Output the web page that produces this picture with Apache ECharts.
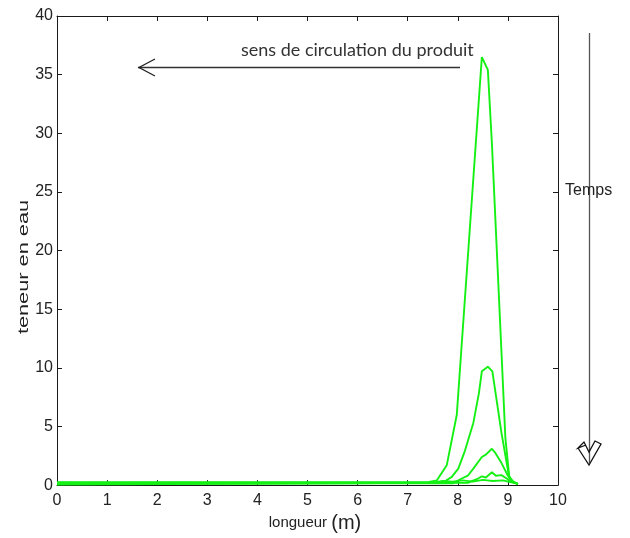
<!DOCTYPE html>
<html><head><meta charset="utf-8">
<script src="https://cdn.jsdelivr.net/npm/echarts@6/dist/echarts.min.js"></script>
<style>html,body{margin:0;padding:0;background:#fff}#c{width:630px;height:538px}</style>
</head><body><div id="c"></div>
<script>
// longueur (m) and teneur en eau for successive times
const x1 = [0, 7.4, 7.58, 7.78, 7.98, 8.48, 8.6, 8.68, 8.87, 8.95, 9.03, 9.12, 9.2];
const y1 = [0.25, 0.25, 0.4, 1.7, 6.0, 36.5, 35.4, 29.2, 11.5, 4.0, 0.6, 0.25, 0.1];
const x2 = [0, 7.7, 7.88, 8.01, 8.14, 8.31, 8.42, 8.48, 8.6, 8.69, 8.87, 9.02, 9.1, 9.2];
const y2 = [0.2, 0.2, 0.7, 1.4, 2.9, 5.3, 7.8, 9.7, 10.1, 9.7, 4.5, 0.8, 0.3, 0.1];
const x3 = [0, 7.9, 8.05, 8.2, 8.31, 8.48, 8.56, 8.68, 8.74, 8.87, 9.0, 9.08, 9.2];
const y3 = [0.15, 0.15, 0.5, 0.8, 1.4, 2.4, 2.6, 3.1, 2.8, 1.9, 0.8, 0.3, 0.1];
const x4 = [0, 8.2, 8.38, 8.48, 8.56, 8.68, 8.76, 8.87, 8.96, 9.06, 9.2];
const y4 = [0.1, 0.2, 0.5, 0.75, 0.65, 1.1, 0.8, 0.85, 0.6, 0.3, 0.1];
const x5 = [0, 7.5, 7.7, 7.9, 8.1, 8.3, 8.5, 8.7, 8.9, 9.05, 9.2];
const y5 = [0.05, 0.2, 0.35, 0.3, 0.4, 0.3, 0.45, 0.35, 0.4, 0.25, 0.1];

const xMin = 0, xMax = 10, xStep = 1;
const yMin = 0, yMax = 40, yStep = 5;

const curves = [[x1, y1], [x2, y2], [x3, y3], [x4, y4], [x5, y5]];
const zip = (xs, ys) => xs.map((x, i) => [x, ys[i]]);

const chart = echarts.init(document.getElementById('c'), null, {renderer: 'canvas'});
const axisCol = '#1a1a1a';
const labelFont = {fontFamily: 'Liberation Sans', fontSize: 16, color: '#222'};
const frameLine = {show: true, onZero: false, lineStyle: {color: axisCol, width: 1}};
const frameTick = {show: true, inside: true, length: 5, lineStyle: {color: axisCol}};

chart.setOption({
  animation: false,
  backgroundColor: '#fff',
  grid: {left: 57, right: 72, top: 16, bottom: 50, show: false},
  xAxis: [{
    type: 'value', min: xMin, max: xMax, interval: xStep, position: 'bottom',
    axisLine: frameLine, axisTick: frameTick,
    axisLabel: Object.assign({margin: 7}, labelFont),
    splitLine: {show: false},
    name: '{a|longueur }{b|(m)}', nameLocation: 'middle', nameGap: 22,
    nameTextStyle: {padding: [0, 0, 0, 15], rich: {
      a: {fontFamily: 'Liberation Sans', fontSize: 15, color: '#222'},
      b: {fontFamily: 'Liberation Sans', fontSize: 20, color: '#222'}
    }}
  }, {
    type: 'value', min: xMin, max: xMax, interval: xStep, position: 'top',
    axisLine: frameLine, axisTick: frameTick,
    axisLabel: {show: false}, splitLine: {show: false}
  }],
  yAxis: [{
    type: 'value', min: yMin, max: yMax, interval: yStep, position: 'left',
    axisLine: frameLine, axisTick: frameTick,
    axisLabel: Object.assign({margin: 4}, labelFont),
    splitLine: {show: false}
  }, {
    type: 'value', min: yMin, max: yMax, interval: yStep, position: 'right',
    axisLine: frameLine, axisTick: frameTick,
    axisLabel: {show: false}, splitLine: {show: false}
  }],
  series: curves.map(([xs, ys]) => ({
    type: 'line', data: zip(xs, ys), showSymbol: false, symbol: 'none',
    lineStyle: {color: '#14f014', width: 1.9}, z: 3
  })),
  graphic: [
    {type: 'text', x: 24, y: 267, rotation: Math.PI / 2, scaleX: 1.45,
     style: {text: 'teneur en eau', fontFamily: 'Liberation Sans', fontSize: 15, fill: '#222',
             textAlign: 'center', textVerticalAlign: 'middle'}},
    {type: 'text', x: 241, y: 50,
     style: {text: 'sens de circulation du produit', fontFamily: 'Lato', fontSize: 18, fill: '#333',
             textAlign: 'left', textVerticalAlign: 'middle'}},
    {type: 'line', shape: {x1: 460, y1: 67.5, x2: 138, y2: 67.5}, style: {stroke: '#333', lineWidth: 1.3}},
    {type: 'polyline', shape: {points: [[155, 59], [139, 67.5], [155, 76]]}, style: {stroke: '#222', lineWidth: 1.3, fill: null}},
    {type: 'line', shape: {x1: 589.5, y1: 33, x2: 589.5, y2: 463}, style: {stroke: '#555', lineWidth: 1.3}},
    {type: 'polyline', shape: {points: [[578, 448], [589, 465], [601, 444], [595, 441], [589, 452], [584, 442], [578, 448], [586, 445]]},
     style: {stroke: '#111', lineWidth: 1.3, fill: null}},
    {type: 'text', x: 565, y: 191,
     style: {text: 'Temps', fontFamily: 'Liberation Sans', fontSize: 16, fill: '#222',
             textAlign: 'left', textVerticalAlign: 'middle'}}
  ]
});
</script>
</body></html>
